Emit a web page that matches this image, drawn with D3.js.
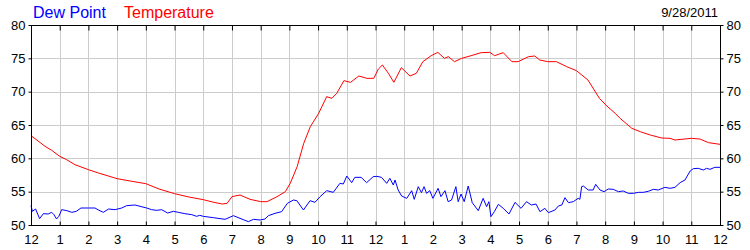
<!DOCTYPE html>
<html>
<head>
<meta charset="utf-8">
<script src="https://cdn.jsdelivr.net/npm/d3@7"></script>
<style>
  body { margin: 0; background: #fff; }
  svg text { font-family: "Liberation Sans", Arial, sans-serif; }
</style>
</head>
<body>
<div class="chart"></div>
<script>
// hours since midnight and values (deg F)
var tempTime = [0, 0.49, 0.72, 1, 1.24, 1.53, 2, 2.35, 3, 3.52, 4, 4.46, 5, 5.5, 6, 6.37, 6.66, 6.83, 7, 7.28, 7.63, 8, 8.22, 8.57, 8.86, 9.03, 9.27, 9.5, 9.73, 10.02, 10.3, 10.48, 10.65, 10.9, 11.13, 11.42, 11.7, 11.94, 12.1, 12.24, 12.45, 12.64, 12.9, 13.2, 13.42, 13.65, 13.94, 14.17, 14.4, 14.54, 14.75, 15, 15.33, 15.68, 15.98, 16.15, 16.45, 16.75, 16.97, 17.33, 17.55, 17.72, 18, 18.3, 18.66, 19, 19.4, 19.8, 20.06, 20.35, 20.52, 20.93, 21.22, 21.57, 21.97, 22.26, 22.43, 23, 23.3, 23.6, 24];
var tempF = [63.4, 61.8, 61.2, 60.3, 59.8, 59.05, 58.3, 57.8, 56.95, 56.55, 56.2, 55.4, 54.7, 54.2, 53.8, 53.4, 53.15, 53.25, 54.25, 54.5, 53.85, 53.5, 53.5, 54.25, 55, 56.25, 58.75, 62.25, 64.75, 66.75, 69.25, 69, 69.75, 71.65, 71.4, 72.35, 72, 72, 73.4, 74, 72.75, 71.4, 73.6, 72.35, 72.75, 74.5, 75.4, 75.9, 75, 75.25, 74.5, 75, 75.4, 75.85, 75.9, 75.4, 75.85, 74.5, 74.5, 75.25, 75.35, 74.75, 74.5, 74.5, 73.75, 73.15, 71.75, 69, 67.85, 66.75, 66, 64.5, 64, 63.5, 63.05, 63, 62.75, 63, 62.9, 62.35, 62.1];

var dewTime = [0, 0.05, 0.16, 0.3, 0.43, 0.6, 0.72, 0.8, 0.89, 0.97, 1.07, 1.25, 1.42, 1.58, 1.74, 2, 2.23, 2.35, 2.52, 2.7, 2.93, 3.16, 3.33, 3.62, 3.8, 4.03, 4.2, 4.38, 4.55, 4.76, 4.96, 5.13, 5.36, 5.6, 5.77, 5.88, 6, 6.35, 6.76, 7.05, 7.28, 7.57, 7.75, 7.98, 8.15, 8.27, 8.5, 8.73, 8.93, 9.14, 9.26, 9.49, 9.72, 9.89, 10.07, 10.3, 10.53, 10.76, 10.88, 11, 11.17, 11.28, 11.5, 11.69, 11.92, 12.05, 12.21, 12.39, 12.5, 12.62, 12.68, 12.79, 12.91, 13.09, 13.26, 13.35, 13.49, 13.6, 13.69, 13.78, 13.89, 14, 14.18, 14.28, 14.42, 14.53, 14.65, 14.8, 14.88, 14.98, 15.09, 15.23, 15.37, 15.58, 15.75, 15.87, 15.95, 16.02, 16.14, 16.28, 16.45, 16.65, 16.86, 17.07, 17.26, 17.43, 17.59, 17.73, 17.9, 18.02, 18.25, 18.37, 18.49, 18.6, 18.72, 18.89, 19.06, 19.12, 19.18, 19.24, 19.41, 19.58, 19.67, 19.82, 19.96, 20.11, 20.28, 20.46, 20.63, 20.81, 20.98, 21.16, 21.33, 21.5, 21.68, 21.85, 22.08, 22.26, 22.43, 22.61, 22.78, 22.96, 23.07, 23.24, 23.42, 23.53, 23.65, 23.82, 24];
var dewF = [52.9, 52.05, 52.4, 50.95, 51.7, 51.65, 51.9, 51.55, 50.9, 51.3, 52.3, 52.15, 51.9, 52.05, 52.55, 52.55, 52.55, 52.25, 51.9, 52.4, 52.3, 52.55, 52.9, 53, 52.8, 52.55, 52.3, 52.2, 52.3, 51.8, 52.05, 51.9, 51.7, 51.55, 51.3, 51.45, 51.3, 51.1, 50.85, 51.4, 51, 50.5, 50.85, 50.75, 50.9, 51.4, 51.75, 52, 53.25, 53.75, 53.65, 52.25, 53.65, 53.4, 54.25, 55.15, 54.9, 56.25, 56.15, 57.35, 56.35, 57.15, 57.15, 56.35, 57.25, 57.3, 57.15, 56.25, 57, 56, 56.75, 55.25, 54.35, 54, 55.15, 53.85, 55.75, 54.85, 55.75, 54.75, 55.15, 54, 55.5, 54.25, 55.15, 53.5, 53.75, 55.75, 53.5, 54.65, 53.5, 55.85, 53.35, 52.15, 54, 52.75, 53.5, 51.25, 52, 53.1, 52.5, 51.65, 53.4, 52.5, 53.5, 53, 53.15, 52, 52.5, 51.85, 52.25, 52.85, 53, 54.1, 53.35, 53.5, 54, 53.85, 55.75, 55.85, 55.25, 55.25, 56.1, 55.25, 55, 55.4, 55.35, 55, 55.1, 54.75, 54.75, 54.9, 54.9, 55.05, 55.35, 55.25, 55.65, 55.5, 55.65, 56.35, 56.75, 58.1, 58.45, 58.5, 58.25, 58.5, 58.35, 58.65, 58.65];

var hourTicks = d3.range(0, 25);
var hourLabels = ['12', '1', '2', '3', '4', '5', '6', '7', '8', '9', '10', '11', '12', '1', '2', '3', '4', '5', '6', '7', '8', '9', '10', '11', '12'];
var valueTicks = [50, 55, 60, 65, 70, 75, 80];
var seriesNames = ['Dew Point', 'Temperature'];
var seriesColors = ['#0000ff', '#ff0000'];
var dateLabel = '9/28/2011';

function drawChart() {
    var W = 750, H = 250;
    var plotLeft = 31, plotRight = 720, plotTop = 25, plotBottom = 225;

    var svg = d3.select('.chart').append('svg')
        .attr('width', W)
        .attr('height', H);

    var x = d3.scaleLinear().domain([0, 24]).range([plotLeft, plotRight]);
    var y = d3.scaleLinear().domain([50, 80]).range([plotBottom, plotTop]);

    // grid
    svg.append('g').selectAll('line')
        .data(hourTicks.slice(1, -1))
        .enter().append('line')
        .attr('x1', function(d) { return Math.round(x(d)) + 0.5; })
        .attr('x2', function(d) { return Math.round(x(d)) + 0.5; })
        .attr('y1', plotTop).attr('y2', plotBottom)
        .attr('stroke', '#cccccc');

    svg.append('g').selectAll('line')
        .data(valueTicks.slice(1, -1))
        .enter().append('line')
        .attr('y1', function(d) { return Math.round(y(d)) + 0.5; })
        .attr('y2', function(d) { return Math.round(y(d)) + 0.5; })
        .attr('x1', plotLeft).attr('x2', plotRight)
        .attr('stroke', '#cccccc');

    // lines
    var line = d3.line()
        .x(function(d) { return x(d[0]); })
        .y(function(d) { return y(d[1]); });

    svg.append('path')
        .datum(d3.zip(dewTime, dewF))
        .attr('d', line)
        .attr('fill', 'none')
        .attr('stroke', seriesColors[0])
        .attr('stroke-width', 1);

    svg.append('path')
        .datum(d3.zip(tempTime, tempF))
        .attr('d', line)
        .attr('fill', 'none')
        .attr('stroke', seriesColors[1])
        .attr('stroke-width', 1);

    // axes
    var fmtHour = function(d) { return hourLabels[d]; };
    var styleText = function(g) {
        g.select('.domain').remove();
        g.selectAll('text').attr('font-size', 13).attr('fill', '#000')
            .style('font-family', '"Liberation Sans", Arial, sans-serif');
    };

    svg.append('g')
        .attr('transform', 'translate(0,' + (plotBottom + 0.5) + ')')
        .call(d3.axisBottom(x).tickValues(hourTicks).tickFormat(fmtHour).tickSizeInner(-4).tickSizeOuter(0).tickPadding(9))
        .call(styleText);

    svg.append('g')
        .attr('transform', 'translate(0,' + (plotTop + 0.5) + ')')
        .call(d3.axisTop(x).tickValues(hourTicks).tickFormat('').tickSizeInner(-5).tickSizeOuter(0))
        .call(styleText);

    svg.append('g')
        .attr('transform', 'translate(' + (plotLeft + 0.5) + ',0)')
        .call(d3.axisLeft(y).tickValues(valueTicks).tickSizeInner(3).tickSizeOuter(0).tickPadding(3))
        .call(styleText);

    svg.append('g')
        .attr('transform', 'translate(' + (plotRight + 0.5) + ',0)')
        .call(d3.axisRight(y).tickValues(valueTicks).tickSizeInner(3).tickSizeOuter(0).tickPadding(3))
        .call(styleText);

    // frame
    svg.append('rect')
        .attr('x', plotLeft + 0.5).attr('y', plotTop + 0.5)
        .attr('width', plotRight - plotLeft).attr('height', plotBottom - plotTop)
        .attr('fill', 'none')
        .attr('stroke', '#000');

    // legend
    svg.append('text')
        .attr('x', 33).attr('y', 18)
        .attr('font-size', 16)
        .attr('fill', seriesColors[0])
        .text(seriesNames[0]);

    svg.append('text')
        .attr('x', 124).attr('y', 18)
        .attr('font-size', 16)
        .attr('fill', seriesColors[1])
        .text(seriesNames[1]);

    svg.append('text')
        .attr('x', 718).attr('y', 17)
        .attr('text-anchor', 'end')
        .attr('font-size', 13)
        .attr('fill', '#000')
        .text(dateLabel);
}

drawChart();
</script>
</body>
</html>
